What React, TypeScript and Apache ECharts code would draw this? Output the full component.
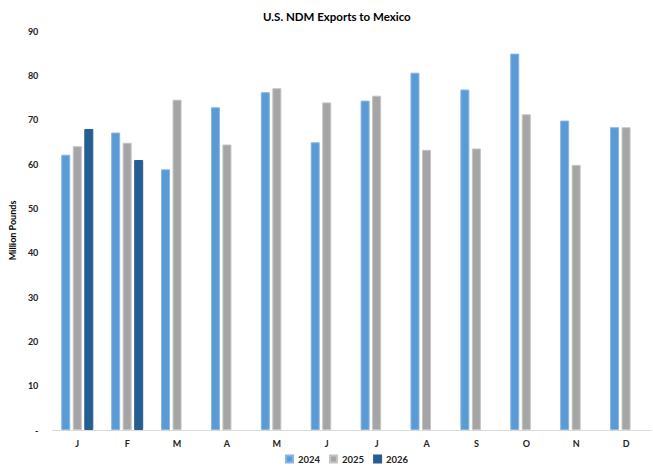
import React, { useEffect, useRef } from "react";
import * as echarts from "echarts";

const months = ["J", "F", "M", "A", "M", "J", "J", "A", "S", "O", "N", "D"];
const s2024 = [62.1, 67.1, 58.8, 72.8, 76.2, 64.9, 74.3, 80.6, 76.8, 84.9, 69.8, 68.3];
const s2025 = [64.0, 64.8, 74.5, 64.4, 77.1, 73.9, 75.4, 63.2, 63.5, 71.2, 59.8, 68.3];
const s2026: (number | null)[] = [67.9, 60.9, null, null, null, null, null, null, null, null, null, null];
const yTicks = { min: 0, max: 90, interval: 10 };

const FONT = "Lato, 'Open Sans', sans-serif";

export default function App() {
  const ref = useRef<HTMLDivElement>(null);
  useEffect(() => {
    document.body.style.margin = "0";
    if (!ref.current) return;
    const chart = echarts.init(ref.current, undefined, { renderer: "svg" });
    const bar = (name: string, data: (number | null)[], color: string, border: string) => ({
      name,
      type: "bar",
      data,
      barWidth: 9,
      barGap: "28%",
      barCategoryGap: "36%",
      itemStyle: { color, borderColor: border, borderWidth: 1 },
    });
    chart.setOption({
      animation: false,
      backgroundColor: "#ffffff",
      textStyle: { fontFamily: FONT },
      title: {
        text: "U.S. NDM Exports to Mexico",
        left: 258,
        top: 5,
        textStyle: { fontFamily: FONT, fontSize: 11.5, fontWeight: "bold", color: "#000" },
      },
      legend: {
        top: 452,
        left: 280,
        padding: [2, 5],
        itemWidth: 7,
        itemHeight: 7,
        itemGap: 9,
        icon: "rect",
        textStyle: { fontFamily: FONT, fontSize: 9.5, fontWeight: "bold", color: "#222" },
        data: ["2024", "2025", "2026"],
      },
      grid: { left: 52, right: 2, top: 31, bottom: 39 },
      xAxis: {
        type: "category",
        data: months,
        axisTick: { show: false },
        axisLine: { lineStyle: { color: "#d9d9d9", width: 1 } },
        axisLabel: { fontFamily: FONT, fontSize: 9, fontWeight: "bold", color: "#222", margin: 9 },
      },
      yAxis: {
        type: "value",
        min: yTicks.min,
        max: yTicks.max,
        interval: yTicks.interval,
        name: "Million Pounds",
        nameLocation: "middle",
        nameGap: 26,
        nameTextStyle: { fontFamily: FONT, fontSize: 9, fontWeight: "bold", color: "#000" },
        splitLine: { show: false },
        axisLine: { show: false },
        axisTick: { show: false },
        axisLabel: {
          fontFamily: FONT,
          fontSize: 9,
          fontWeight: "bold",
          color: "#222",
          margin: 14,
          formatter: (v: number) => (v === 0 ? "-" : String(v)),
        },
      },
      series: [
        bar("2024", s2024, "#5B9BD5", "#86b6e3"),
        bar("2025", s2025, "#A5A5A5", "#c4c4c4"),
        bar("2026", s2026, "#255E91", "#255E91"),
      ],
    });
    return () => chart.dispose();
  }, []);
  return <div ref={ref} style={{ width: 653, height: 469 }} />;
}
